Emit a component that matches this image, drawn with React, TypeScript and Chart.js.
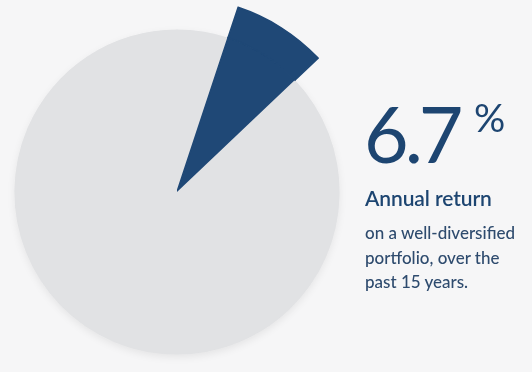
import React, { useEffect, useRef } from "react";
import { Chart, registerables } from "chart.js";

Chart.register(...registerables);

// Slice sizes in degrees of the circle (clockwise from 12 o'clock)
const sliceLabels = ["Before", "Annual return", "Rest"];
const sliceDegrees = [18.3, 28.2, 313.5];
const headlineValue = "6.7";
const headlineUnit = "%";
const headlineTitle = "Annual return";
const bodyLines = ["on a well-diversified", "portfolio, over the", "past 15 years."];

const BLUE = "#1f4876";
const GRAY = "#e1e2e4";
const BG = "#f6f6f7";
const TEXT = "#1d4571";
const BODY = "#2e4b6e";

// Soft shadow under the gray disc, drawn from the inner ring's computed geometry
const shadowPlugin = {
  id: "softShadow",
  beforeDatasetsDraw(chart: any) {
    const meta = chart.getDatasetMeta(1);
    const arc = meta && meta.data && meta.data[0];
    if (!arc) return;
    const { x, y, outerRadius } = arc.getProps(["x", "y", "outerRadius"], true);
    const ctx = chart.ctx;
    ctx.save();
    ctx.shadowColor = "rgba(0,0,0,0.08)";
    ctx.shadowBlur = 9;
    ctx.shadowOffsetY = 3;
    ctx.fillStyle = GRAY;
    ctx.beginPath();
    ctx.arc(x, y, outerRadius - 0.5, 0, Math.PI * 2);
    ctx.fill();
    ctx.restore();
  },
};

export default function App() {
  const ref = useRef<HTMLCanvasElement | null>(null);

  useEffect(() => {
    if (!ref.current) return;
    const chart = new Chart(ref.current, {
      type: "pie",
      data: {
        labels: sliceLabels,
        datasets: [
          {
            data: sliceDegrees,
            backgroundColor: ["rgba(0,0,0,0)", BLUE, "rgba(0,0,0,0)"],
            borderColor: ["rgba(0,0,0,0)", BLUE, "rgba(0,0,0,0)"],
            borderWidth: [0, 1.5, 0],
            borderJoinStyle: "miter",
            weight: 32,
          },
          {
            data: sliceDegrees,
            backgroundColor: [GRAY, BLUE, GRAY],
            borderColor: [GRAY, BLUE, GRAY],
            borderWidth: [0, 1.5, 0],
            borderJoinStyle: "miter",
            weight: 163,
          },
        ],
      },
      options: {
        responsive: false,
        animation: false,
        events: [],
        radius: 194.5,
        layout: { padding: 0 },
        plugins: {
          legend: { display: false },
          tooltip: { enabled: false },
        },
      },
      plugins: [shadowPlugin],
    });
    return () => chart.destroy();
  }, []);

  return (
    <div
      style={{
        position: "fixed",
        left: 0,
        top: 0,
        width: 532,
        height: 372,
        background: BG,
        overflow: "hidden",
        fontFamily: "Lato, 'Noto Sans', sans-serif",
      }}
    >
      <canvas
        ref={ref}
        width={390}
        height={390}
        style={{ position: "absolute", left: -18, top: -3, width: 390, height: 390 }}
      />
      <div
        style={{
          position: "absolute",
          left: 364,
          top: 95,
          fontSize: 77,
          lineHeight: 1,
          letterSpacing: -4,
          color: TEXT,
          fontWeight: 400,
          whiteSpace: "nowrap",
        }}
      >
        {headlineValue}
      </div>
      <div
        style={{
          position: "absolute",
          left: 474,
          top: 98,
          fontSize: 39,
          lineHeight: 1,
          color: TEXT,
          fontWeight: 400,
          whiteSpace: "nowrap",
        }}
      >
        {headlineUnit}
      </div>
      <div
        style={{
          position: "absolute",
          left: 365,
          top: 187,
          fontSize: 21,
          lineHeight: 1,
          letterSpacing: -0.1,
          color: TEXT,
          fontWeight: 600,
          whiteSpace: "nowrap",
        }}
      >
        {headlineTitle}
      </div>
      <div
        style={{
          position: "absolute",
          left: 365,
          top: 221,
          fontSize: 17,
          lineHeight: "24.5px",
          color: BODY,
          fontWeight: 500,
          whiteSpace: "nowrap",
        }}
      >
        {bodyLines.map((l, i) => (
          <div key={i}>{l}</div>
        ))}
      </div>
    </div>
  );
}
